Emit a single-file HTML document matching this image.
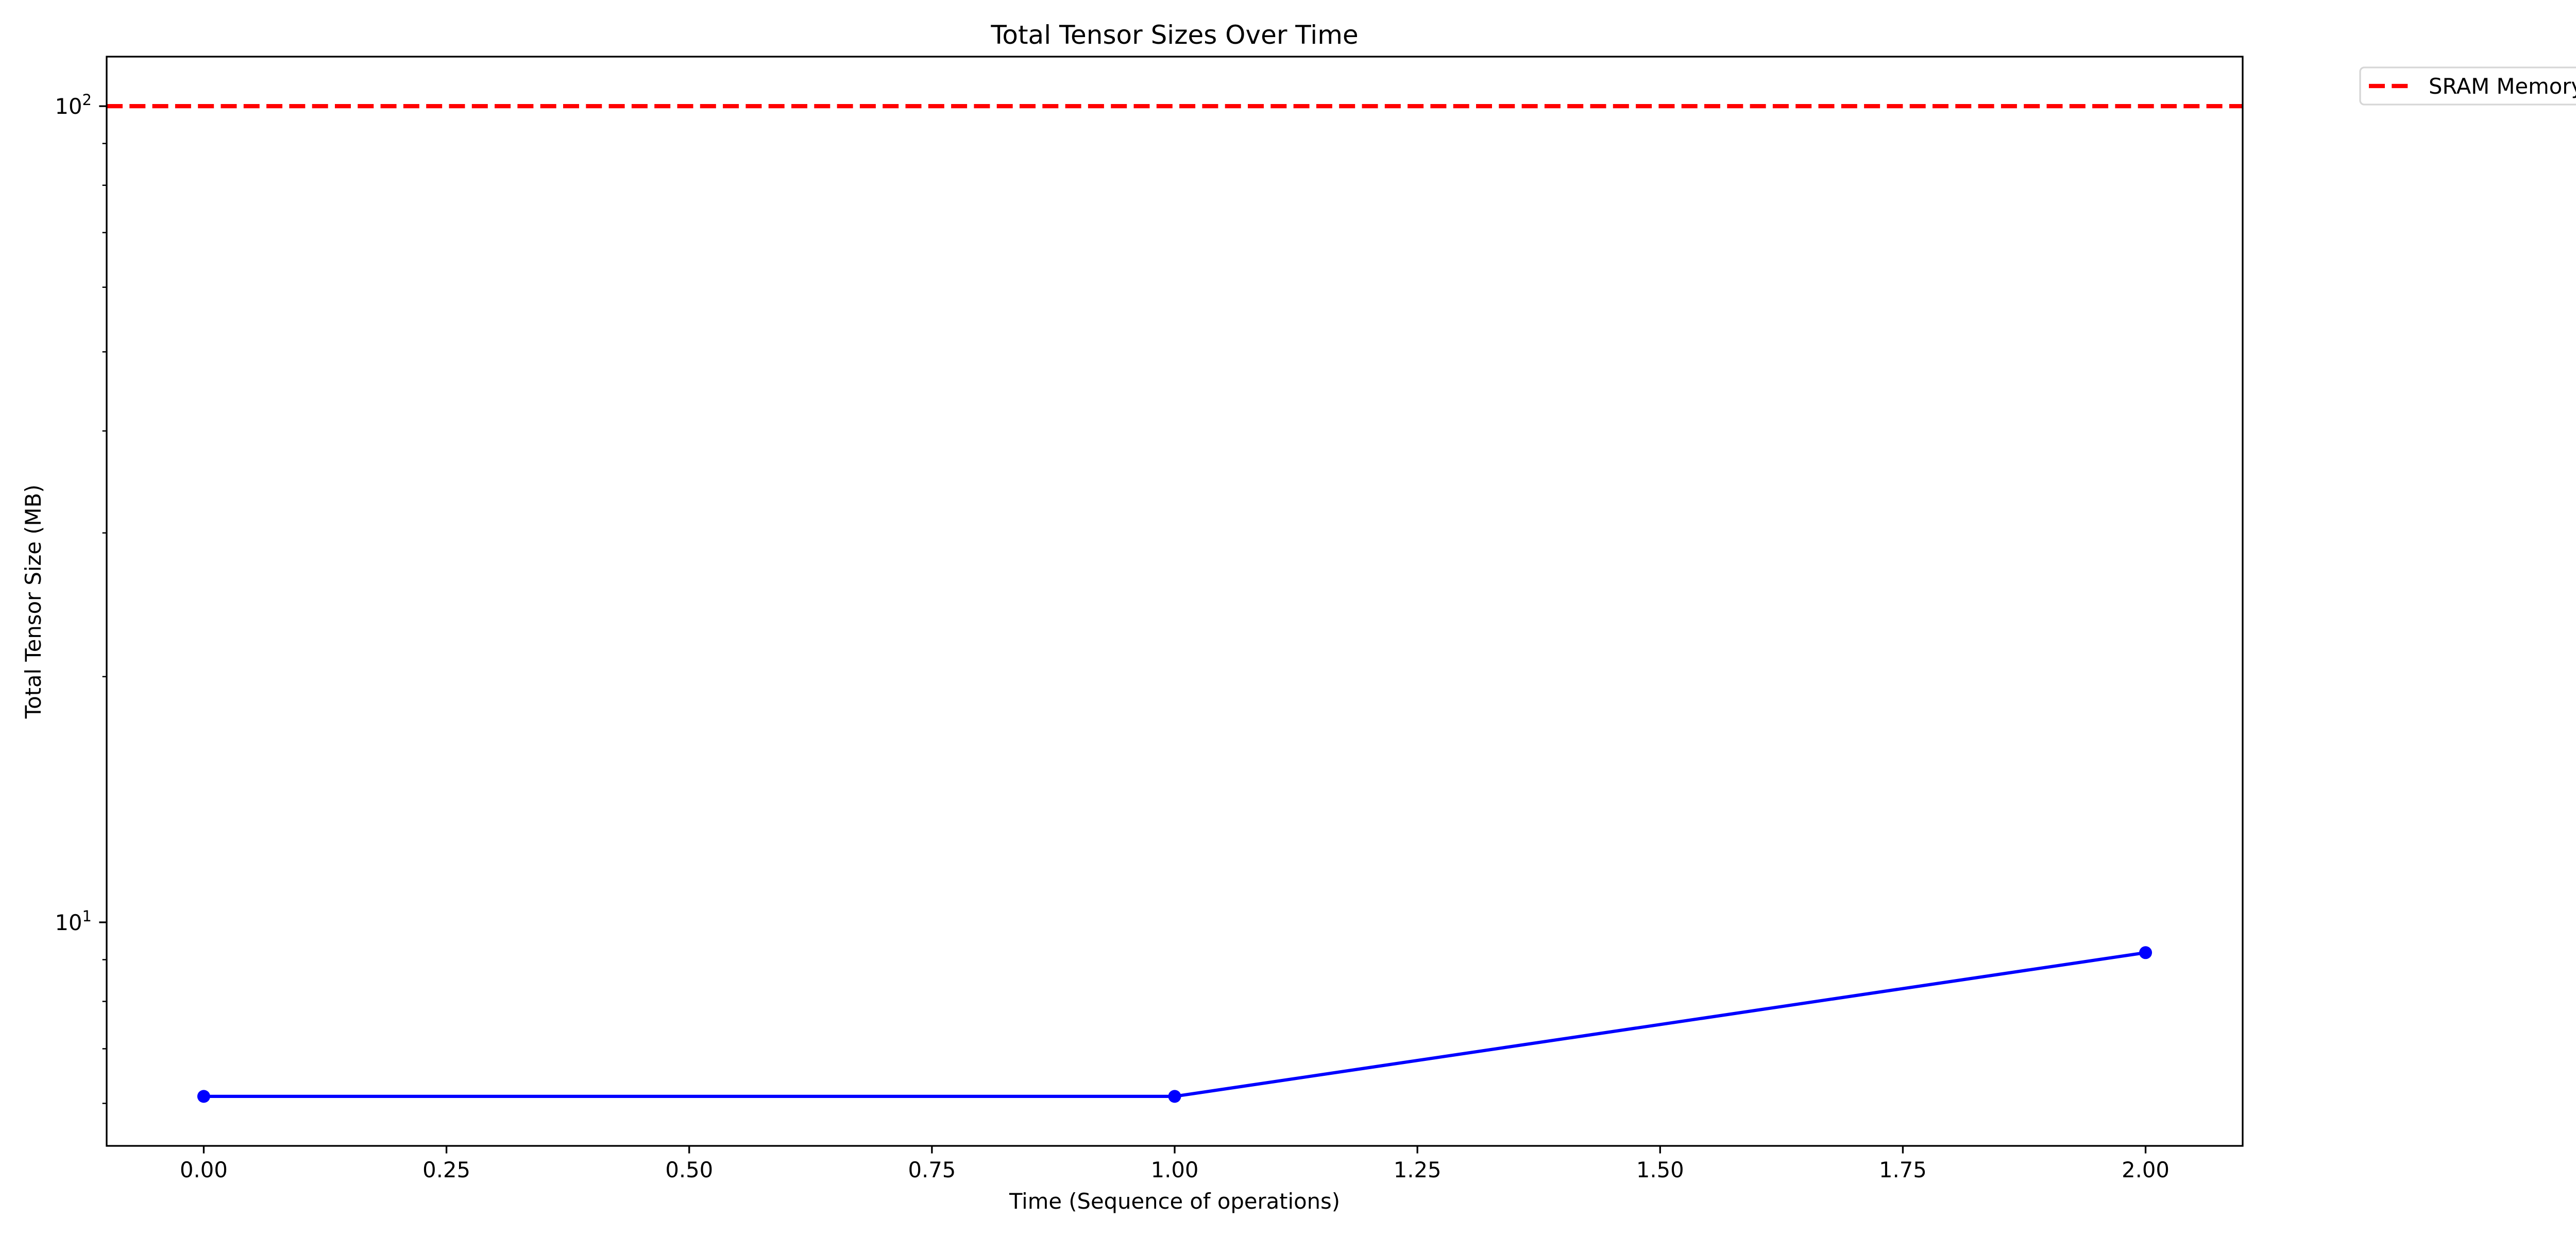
<!DOCTYPE html>
<html><head><meta charset="utf-8">
<style>
html,body{margin:0;padding:0;background:#fff;width:5400px;height:2400px;overflow:hidden;}
svg{display:block;font-family:"DejaVu Sans","Liberation Sans",sans-serif;}
</style></head>
<body>
<svg id="chart" width="5400" height="2400" viewBox="0 0 5400 2400" xmlns="http://www.w3.org/2000/svg">
<rect width="5400" height="2400" fill="#fff"/>
<text x="2280" y="85" font-size="50" text-anchor="middle">Total Tensor Sizes Over Time</text>
<g id="plot"></g>
<text x="2280" y="2347" font-size="41.7" text-anchor="middle">Time (Sequence of operations)</text>
<text transform="translate(79,1168) rotate(-90)" font-size="41.7" text-anchor="middle">Total Tensor Size (MB)</text>
<g>
<rect x="4581" y="131" width="671" height="72" rx="8" fill="#fff" stroke="#d6d6d6" stroke-width="3.3"/>
<line x1="4598" y1="167" x2="4681" y2="167" stroke="#ff0000" stroke-width="8.3" stroke-dasharray="31 13.3"/>
<text x="4714" y="182" font-size="41.7">SRAM Memory Limit (100 MB)</text>
</g>
</svg>
<script>
const xValues = [0, 1, 2];
const sizeValues = [6.12, 6.12, 9.18];
const limitValue = 100;
const xTicks = [0, 0.25, 0.5, 0.75, 1, 1.25, 1.5, 1.75, 2];
const xTickLabels = ["0.00","0.25","0.50","0.75","1.00","1.25","1.50","1.75","2.00"];
const yMajorTicks = [10, 100];
const yMajorExp = ["1", "2"];
const yMinorTicks = [6, 7, 8, 9, 20, 30, 40, 50, 60, 70, 80, 90];

const L = 207, R = 4353, T = 110, B = 2225;
const NS = "http://www.w3.org/2000/svg";
const xmin = -0.1, xmax = 2.1;
const lmin = Math.log10(sizeValues.concat([limitValue]).reduce((a,b)=>Math.min(a,b)));
const lmax = Math.log10(sizeValues.concat([limitValue]).reduce((a,b)=>Math.max(a,b)));
const pad = (lmax - lmin) * 0.05;
const ylo = lmin - pad, yhi = lmax + pad;
function sx(v){ return L + (v - xmin) / (xmax - xmin) * (R - L); }
function sy(v){ return B - (Math.log10(v) - ylo) / (yhi - ylo) * (B - T); }
function mk(tag, attrs){ const e = document.createElementNS(NS, tag); for (const k in attrs) e.setAttribute(k, attrs[k]); return e; }
const g = document.getElementById('plot');

const defs = mk('defs', {}); const cp = mk('clipPath', {id:'clip'});
cp.appendChild(mk('rect', {x:L, y:T, width:R-L, height:B-T})); defs.appendChild(cp); g.appendChild(defs);

const lim = mk('line', {x1:L, x2:R, y1:sy(limitValue), y2:sy(limitValue), stroke:'#ff0000', 'stroke-width':8.3, 'stroke-dasharray':'31 13.3', 'clip-path':'url(#clip)'});


g.appendChild(lim);

const pts = xValues.map((x,i)=> sx(x).toFixed(1) + ',' + sy(sizeValues[i]).toFixed(1)).join(' ');
const pl = mk('polyline', {points:pts, fill:'none', stroke:'#0000ff', 'stroke-width':6.25, 'stroke-linejoin':'round'});


g.appendChild(pl);
xValues.forEach((x,i)=>{
  const c = mk('circle', {cx:sx(x), cy:sy(sizeValues[i]), r:12.5, fill:'#0000ff'});
  
  
  g.appendChild(c);
});

const fr = mk('rect', {x:L, y:T, width:R-L, height:B-T, fill:'none', stroke:'#000', 'stroke-width':3.3});


g.appendChild(fr);

xTicks.forEach((t,i)=>{
  const x = sx(t);
  const tk = mk('line', {x1:x, x2:x, y1:B, y2:B+14.6, stroke:'#000', 'stroke-width':3.3});
  
  
  g.appendChild(tk);
  const lb = mk('text', {x:x, y:2286, 'font-size':41.7, 'text-anchor':'middle'});
  lb.textContent = xTickLabels[i];
  
  
  g.appendChild(lb);
});

yMajorTicks.forEach((t,i)=>{
  const y = sy(t);
  const tk = mk('line', {x1:L-14.6, x2:L, y1:y, y2:y, stroke:'#000', 'stroke-width':3.3});
  
  
  g.appendChild(tk);
  const lb = mk('text', {x:L-29, y:y+15, 'font-size':41.7, 'text-anchor':'end'});
  const base = mk('tspan', {}); base.textContent = '10';
  const sup = mk('tspan', {'font-size':29, dy:-17}); sup.textContent = yMajorExp[i];
  lb.appendChild(base); lb.appendChild(sup);
  
  
  g.appendChild(lb);
});
yMinorTicks.forEach(t=>{
  const y = sy(t);
  if (y < T || y > B) return;
  const tk = mk('line', {x1:L-8.3, x2:L, y1:y, y2:y, stroke:'#000', 'stroke-width':2.5});
  
  
  g.appendChild(tk);
});
</script>
</body></html>
